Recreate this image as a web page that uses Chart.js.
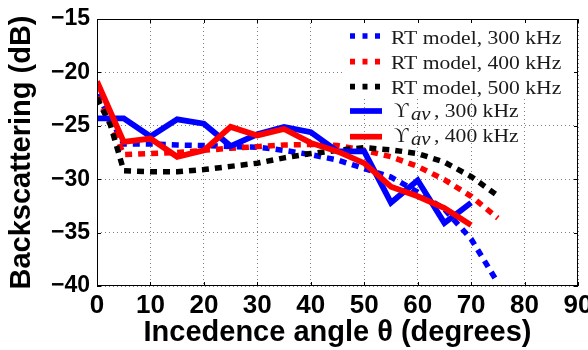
<!DOCTYPE html>
<html><head><meta charset="utf-8">
<script src="https://cdn.jsdelivr.net/npm/chart.js@4.4.0/dist/chart.umd.min.js"></script>
<style>html,body{margin:0;padding:0;background:#fff;overflow:hidden}#wrap{width:588px;height:350px}</style>
</head><body><div id="wrap"><canvas id="c" width="588" height="350"></canvas></div>
<script>
// ---- data ----
const rtAngles = [0, 2.5, 5, 10, 15, 20, 25, 30, 35, 40, 45, 50, 55, 60, 65, 70, 75];
const rt300 = [-22.1, -24.3, -26.7, -26.7, -26.8, -26.85, -26.95, -27.0, -27.3, -27.7, -28.2, -29.0, -29.8, -31.2, -32.8, -35.6, -39.7];
const rt400 = [-22.3, -24.8, -27.7, -27.6, -27.5, -27.3, -27.1, -26.95, -26.8, -26.75, -26.85, -27.3, -27.9, -28.8, -30.05, -31.6, -33.65];
const rt500 = [-22.4, -24.9, -29.2, -29.3, -29.3, -29.1, -28.8, -28.5, -28.0, -27.6, -27.3, -27.05, -27.25, -27.6, -28.4, -29.75, -31.55];
const measAngles = [0, 5, 10, 15, 20, 25, 30, 35, 40, 45, 50, 55, 60, 65, 70];
const yav300 = [-24.3, -24.3, -26.0, -24.4, -24.8, -26.9, -25.8, -25.1, -25.6, -27.4, -27.4, -32.2, -30.1, -34.1, -32.2];
const yav400 = [-20.85, -26.5, -26.2, -27.9, -27.3, -25.1, -25.9, -25.3, -26.6, -27.4, -28.5, -30.7, -31.6, -32.7, -34.3];
const xTicks = [0, 10, 20, 30, 40, 50, 60, 70, 80, 90];
const yTicks = [-40, -35, -30, -25, -20, -15];
const seriesLabels = ['RT model, 300 kHz', 'RT model, 400 kHz', 'RT model, 500 kHz', 'ϒav, 300 kHz', 'ϒav, 400 kHz'];
const seriesColors = ['#0000ff', '#ff0000', '#000000', '#0000ff', '#ff0000'];

const pts = (xs, ys) => xs.map((x, i) => ({x: x, y: ys[i]}));
const DOT = [7, 6];
const LEG_BASE = [43.5, 68.5, 94, 117, 142];
const LEG_MARK = [36, 61.7, 86.7, 111, 136.7];
const SERIF = '"Liberation Serif", "DejaVu Serif", serif';

const boxPlugin = {
  id: 'boxAndLegend',
  afterDraw(chart) {
    const ctx = chart.ctx, a = chart.chartArea;
    const xs = chart.scales.x, ys = chart.scales.y;
    ctx.save();
    // legend background (covers only the upper rows, as in the reference)
    ctx.fillStyle = '#fff';
    ctx.fillRect(342, a.top + 1, a.right - 343, 97 - a.top);
    chart.data.datasets.forEach((ds, i) => {
      const base = LEG_BASE[i];
      const my = LEG_MARK[i];
      ctx.save();
      ctx.strokeStyle = ds.borderColor;
      ctx.lineWidth = 5.7;
      ctx.lineCap = 'butt';
      ctx.setLineDash(ds.borderDash ? [5, 7.5] : []);
      ctx.beginPath(); ctx.moveTo(350, my); ctx.lineTo(382, my); ctx.stroke();
      ctx.restore();
      ctx.fillStyle = '#1a1a1a';
      ctx.textBaseline = 'alphabetic';
      ctx.textAlign = 'left';
      const lab = ds.label;
      if (lab.startsWith('ϒav')) {
        ctx.font = '20px ' + SERIF;
        ctx.fillText('ϒ', 394, base);
        ctx.save(); ctx.translate(411, base + 3); ctx.scale(1.15, 1);
        ctx.font = 'italic 18px ' + SERIF;
        ctx.fillText('av', 0, 0); ctx.restore();
        ctx.save(); ctx.translate(434, base); ctx.scale(1.2, 1);
        ctx.font = '18px ' + SERIF;
        ctx.fillText(lab.slice(3), 0, 0); ctx.restore();
      } else {
        ctx.save(); ctx.translate(391, base); ctx.scale(1.2, 1);
        ctx.font = '18px ' + SERIF;
        ctx.fillText(lab, 0, 0); ctx.restore();
      }
    });
    // axes box and inner ticks
    ctx.strokeStyle = '#000';
    ctx.lineWidth = 1;
    ctx.setLineDash([]);
    ctx.strokeRect(a.left + 0.5, a.top + 0.5, a.right - a.left - 1, a.bottom - a.top - 1);
    ctx.beginPath();
    xTicks.forEach(v => {
      const px = Math.round(xs.getPixelForValue(v)) + 0.5;
      ctx.moveTo(px, a.bottom); ctx.lineTo(px, a.bottom - 4);
      ctx.moveTo(px, a.top); ctx.lineTo(px, a.top + 4);
    });
    yTicks.forEach(v => {
      const py = Math.round(ys.getPixelForValue(v)) + 0.5;
      ctx.moveTo(a.left, py); ctx.lineTo(a.left + 4, py);
      ctx.moveTo(a.right, py); ctx.lineTo(a.right - 4, py);
    });
    ctx.stroke();
    ctx.restore();
  }
};

new Chart(document.getElementById('c'), {
  type: 'line',
  data: {
    datasets: [
      {label: seriesLabels[0], data: pts(rtAngles, rt300), borderColor: seriesColors[0], borderWidth: 5.5, borderDash: DOT, order: 5},
      {label: seriesLabels[1], data: pts(rtAngles, rt400), borderColor: seriesColors[1], borderWidth: 5.5, borderDash: DOT, order: 4},
      {label: seriesLabels[2], data: pts(rtAngles, rt500), borderColor: seriesColors[2], borderWidth: 5.5, borderDash: DOT, order: 3},
      {label: seriesLabels[3], data: pts(measAngles, yav300), borderColor: seriesColors[3], borderWidth: 5.8, order: 2},
      {label: seriesLabels[4], data: pts(measAngles, yav400), borderColor: seriesColors[4], borderWidth: 5.8, order: 1}
    ].map(d => Object.assign({pointRadius: 0, fill: false, tension: 0, borderCapStyle: 'butt', borderJoinStyle: 'miter'}, d))
  },
  options: {
    responsive: false,
    animation: false,
    devicePixelRatio: 1,
    layout: {padding: {top: 19, right: 10, left: 0, bottom: 0}},
    plugins: {legend: {display: false}, tooltip: {enabled: false}},
    scales: {
      x: {
        type: 'linear', min: 0, max: 90,
        afterBuildTicks: s => { s.ticks = xTicks.map(v => ({value: v})); },
        afterFit: s => { s.height = 64; s.paddingLeft = 0; s.paddingRight = 0; },
        ticks: {color: '#000', padding: 4, maxRotation: 0, autoSkip: false,
                font: {family: '"Liberation Sans", Arial, sans-serif', weight: 'bold', size: 26}},
        grid: {color: 'rgba(0,0,0,0.5)', lineWidth: 1, drawTicks: false},
        border: {display: false, dash: [1, 3]},
        title: {display: true, text: 'Incedence angle θ (degrees)', color: '#000', padding: {top: 0, bottom: 0},
                font: {family: '"Liberation Sans", Arial, sans-serif', weight: 'bold', size: 29}}
      },
      y: {
        type: 'linear', min: -40, max: -15,
        afterBuildTicks: s => { s.ticks = yTicks.map(v => ({value: v})); },
        afterFit: s => { s.width = 97; s.paddingTop = 0; s.paddingBottom = 0; },
        ticks: {color: '#000', padding: 7,
                callback: v => String(v).replace('-', '\u2212'),
                font: {family: '"Liberation Sans", Arial, sans-serif', weight: 'bold', size: 23}},
        grid: {color: 'rgba(0,0,0,0.5)', lineWidth: 1, drawTicks: false},
        border: {display: false, dash: [1, 3]},
        title: {display: true, text: 'Backscattering (dB)', color: '#000', padding: {top: 5, bottom: 0},
                font: {family: '"Liberation Sans", Arial, sans-serif', weight: 'bold', size: 29}}
      }
    }
  },
  plugins: [boxPlugin]
});
</script>
</body></html>
